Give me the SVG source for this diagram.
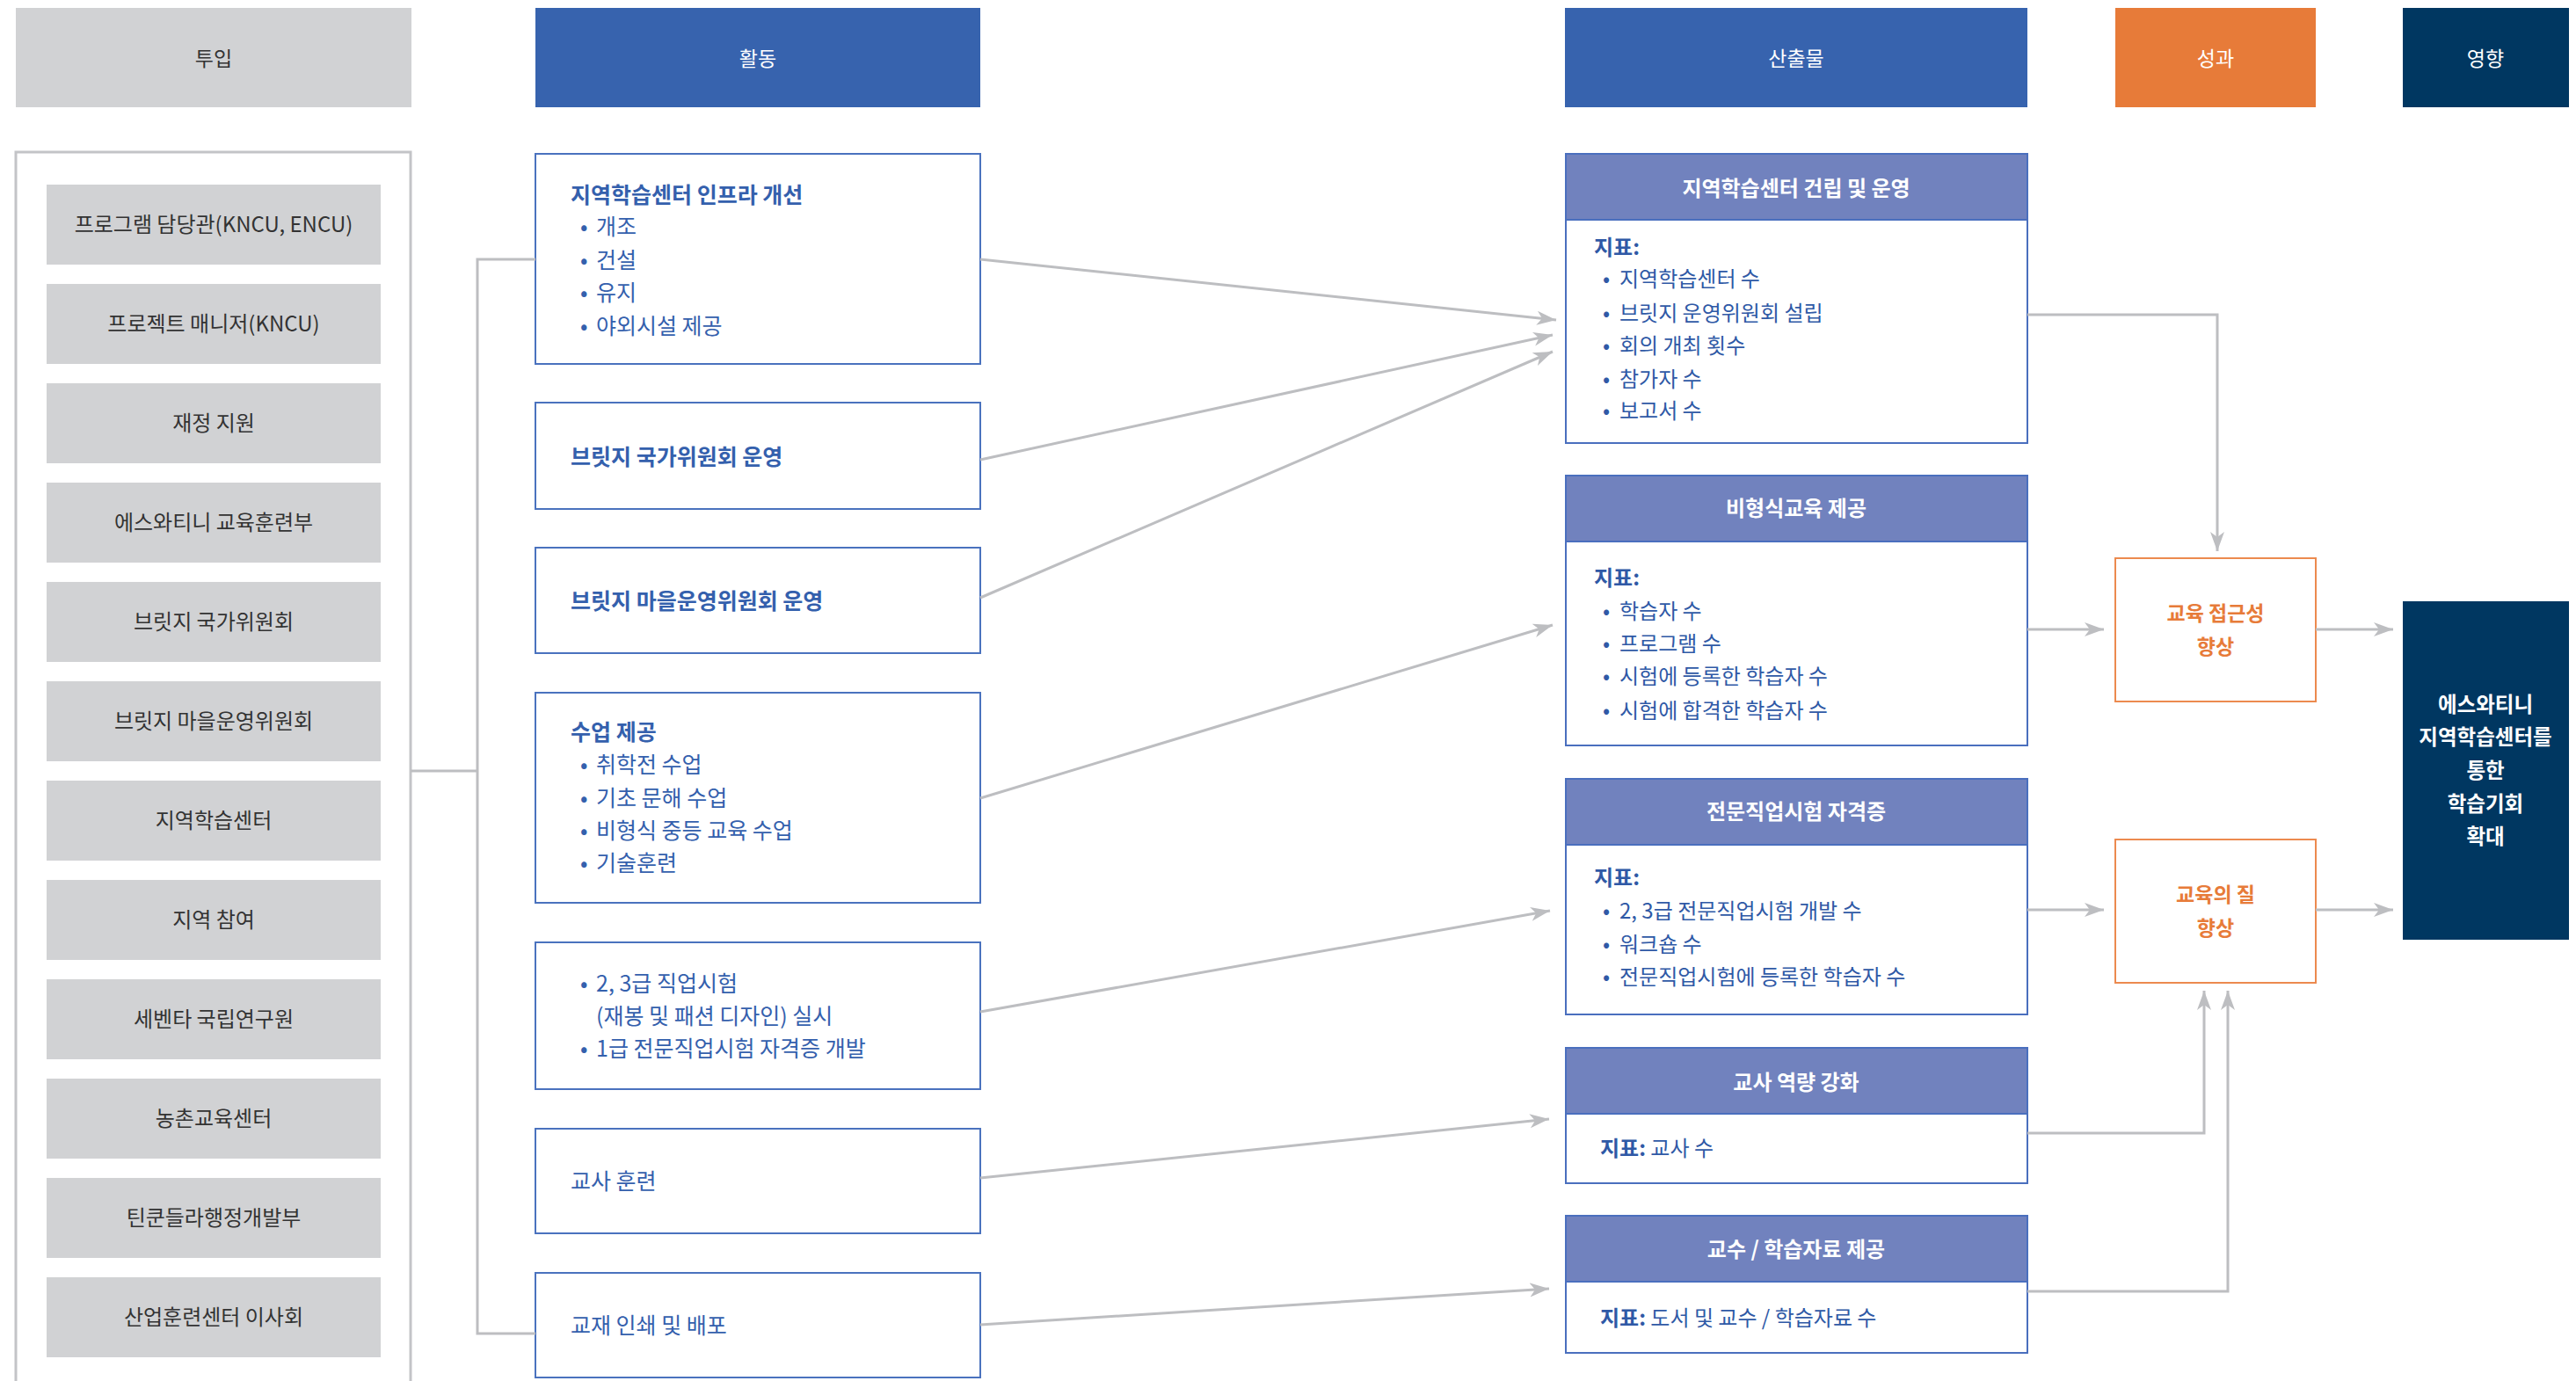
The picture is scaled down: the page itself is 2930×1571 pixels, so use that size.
<svg xmlns="http://www.w3.org/2000/svg" width="2930" height="1571" viewBox="0 0 2930 1571">
<defs>
<style>
text{font-family:"Noto Sans CJK KR","Noto Sans",sans-serif;}
.hdr{font-size:23px;fill:#ffffff;text-anchor:middle;}
.hdrg{font-size:23px;fill:#333333;text-anchor:middle;}
.inbox{fill:#d1d2d4;}
.intext{font-size:24px;fill:#333333;text-anchor:middle;}
.act{fill:#ffffff;stroke:#4a72be;stroke-width:2;}
.at{font-size:25px;fill:#3460ad;font-weight:700;}
.ai{font-size:25px;fill:#3460ad;}
.out{fill:#ffffff;stroke:#4a6fbe;stroke-width:2;}
.outh{fill:#7182be;stroke:#4a6fbe;stroke-width:2;}
.oh{font-size:24px;fill:#ffffff;font-weight:700;text-anchor:middle;}
.ok{font-size:24px;fill:#2f59a6;font-weight:700;}
.oi{font-size:24px;fill:#2f59a6;}
.res{fill:#ffffff;stroke:#ec8a4f;stroke-width:2;}
.rt{font-size:23px;fill:#e77b39;font-weight:700;text-anchor:middle;}
.imp{font-size:23.5px;fill:#ffffff;font-weight:700;text-anchor:middle;}
.ln{fill:none;stroke:#bdbec1;stroke-width:3;}
.lna{fill:none;stroke:#bdbec1;stroke-width:3;marker-end:url(#ah);}
</style>
<marker id="ah" markerUnits="userSpaceOnUse" markerWidth="24" markerHeight="18" refX="22" refY="8" orient="auto">
<path d="M0,0 L22,8 L0,16 L6,8 z" fill="#bdbec1"/>
</marker>
</defs>

<g id="headers">
<g id="h-input"><rect x="18" y="9" width="450" height="113" fill="#d1d2d4"/><text class="hdrg" x="243" y="75">투입</text></g>
<g id="h-activity"><rect x="609" y="9" width="506" height="113" fill="#3763ae"/><text class="hdr" x="862" y="75">활동</text></g>
<g id="h-output"><rect x="1780" y="9" width="526" height="113" fill="#3763ae"/><text class="hdr" x="2043" y="75">산출물</text></g>
<g id="h-outcome"><rect x="2406" y="9" width="228" height="113" fill="#e77b39"/><text class="hdr" x="2520" y="75">성과</text></g>
<g id="h-impact"><rect x="2733" y="9" width="189" height="113" fill="#003761"/><text class="hdr" x="2827" y="75">영향</text></g>
</g>

<g id="inputs">
<rect x="18" y="173" width="449" height="1420" fill="#ffffff" stroke="#c3c4c7" stroke-width="3"/>
<g id="in1"><rect class="inbox" x="53" y="210" width="380" height="91"/><text class="intext" x="243" y="264">프로그램 담당관(KNCU, ENCU)</text></g>
<g id="in2"><rect class="inbox" x="53" y="323" width="380" height="91"/><text class="intext" x="243" y="377">프로젝트 매니저(KNCU)</text></g>
<g id="in3"><rect class="inbox" x="53" y="436" width="380" height="91"/><text class="intext" x="243" y="490">재정 지원</text></g>
<g id="in4"><rect class="inbox" x="53" y="549" width="380" height="91"/><text class="intext" x="243" y="603">에스와티니 교육훈련부</text></g>
<g id="in5"><rect class="inbox" x="53" y="662" width="380" height="91"/><text class="intext" x="243" y="716">브릿지 국가위원회</text></g>
<g id="in6"><rect class="inbox" x="53" y="775" width="380" height="91"/><text class="intext" x="243" y="829">브릿지 마을운영위원회</text></g>
<g id="in7"><rect class="inbox" x="53" y="888" width="380" height="91"/><text class="intext" x="243" y="942">지역학습센터</text></g>
<g id="in8"><rect class="inbox" x="53" y="1001" width="380" height="91"/><text class="intext" x="243" y="1055">지역 참여</text></g>
<g id="in9"><rect class="inbox" x="53" y="1114" width="380" height="91"/><text class="intext" x="243" y="1168">세벤타 국립연구원</text></g>
<g id="in10"><rect class="inbox" x="53" y="1227" width="380" height="91"/><text class="intext" x="243" y="1281">농촌교육센터</text></g>
<g id="in11"><rect class="inbox" x="53" y="1340" width="380" height="91"/><text class="intext" x="243" y="1394">틴쿤들라행정개발부</text></g>
<g id="in12"><rect class="inbox" x="53" y="1453" width="380" height="91"/><text class="intext" x="243" y="1507">산업훈련센터 이사회</text></g>
</g>

<g id="activities">
<g id="act1"><rect class="act" x="609" y="175" width="506" height="239"/>
<text class="at" x="649" y="231">지역학습센터 인프라 개선</text>
<text class="ai" x="660" y="267">•</text><text class="ai" x="678" y="267">개조</text>
<text class="ai" x="660" y="305">•</text><text class="ai" x="678" y="305">건설</text>
<text class="ai" x="660" y="342">•</text><text class="ai" x="678" y="342">유지</text>
<text class="ai" x="660" y="380">•</text><text class="ai" x="678" y="380">야외시설 제공</text>
</g>
<g id="act2"><rect class="act" x="609" y="458" width="506" height="121"/><text class="at" x="649" y="529">브릿지 국가위원회 운영</text></g>
<g id="act3"><rect class="act" x="609" y="623" width="506" height="120"/><text class="at" x="649" y="693">브릿지 마을운영위원회 운영</text></g>
<g id="act4"><rect class="act" x="609" y="788" width="506" height="239"/>
<text class="at" x="649" y="842">수업 제공</text>
<text class="ai" x="660" y="879">•</text><text class="ai" x="678" y="879">취학전 수업</text>
<text class="ai" x="660" y="917">•</text><text class="ai" x="678" y="917">기초 문해 수업</text>
<text class="ai" x="660" y="954">•</text><text class="ai" x="678" y="954">비형식 중등 교육 수업</text>
<text class="ai" x="660" y="991">•</text><text class="ai" x="678" y="991">기술훈련</text>
</g>
<g id="act5"><rect class="act" x="609" y="1072" width="506" height="167"/>
<text class="ai" x="660" y="1128">•</text><text class="ai" x="678" y="1128">2, 3급 직업시험</text>
<text class="ai" x="678" y="1165">(재봉 및 패션 디자인) 실시</text>
<text class="ai" x="660" y="1202">•</text><text class="ai" x="678" y="1202">1급 전문직업시험 자격증 개발</text>
</g>
<g id="act6"><rect class="act" x="609" y="1284" width="506" height="119"/><text class="ai" x="649" y="1353">교사 훈련</text></g>
<g id="act7"><rect class="act" x="609" y="1448" width="506" height="119"/><text class="ai" x="649" y="1517">교재 인쇄 및 배포</text></g>
</g>

<g id="outputs">
<g id="out1"><rect class="out" x="1781" y="175" width="525" height="329"/><rect class="outh" x="1781" y="175" width="525" height="75"/>
<text class="oh" x="2043" y="223">지역학습센터 건립 및 운영</text>
<text class="ok" x="1813" y="290">지표:</text>
<text class="oi" x="1823" y="326">•</text><text class="oi" x="1842" y="326">지역학습센터 수</text>
<text class="oi" x="1823" y="365">•</text><text class="oi" x="1842" y="365">브릿지 운영위원회 설립</text>
<text class="oi" x="1823" y="402">•</text><text class="oi" x="1842" y="402">회의 개최 횟수</text>
<text class="oi" x="1823" y="440">•</text><text class="oi" x="1842" y="440">참가자 수</text>
<text class="oi" x="1823" y="476">•</text><text class="oi" x="1842" y="476">보고서 수</text>
</g>
<g id="out2"><rect class="out" x="1781" y="541" width="525" height="307"/><rect class="outh" x="1781" y="541" width="525" height="75"/>
<text class="oh" x="2043" y="587">비형식교육 제공</text>
<text class="ok" x="1813" y="666">지표:</text>
<text class="oi" x="1823" y="704">•</text><text class="oi" x="1842" y="704">학습자 수</text>
<text class="oi" x="1823" y="741">•</text><text class="oi" x="1842" y="741">프로그램 수</text>
<text class="oi" x="1823" y="778">•</text><text class="oi" x="1842" y="778">시험에 등록한 학습자 수</text>
<text class="oi" x="1823" y="817">•</text><text class="oi" x="1842" y="817">시험에 합격한 학습자 수</text>
</g>
<g id="out3"><rect class="out" x="1781" y="886" width="525" height="268"/><rect class="outh" x="1781" y="886" width="525" height="75"/>
<text class="oh" x="2043" y="932">전문직업시험 자격증</text>
<text class="ok" x="1813" y="1007">지표:</text>
<text class="oi" x="1823" y="1045">•</text><text class="oi" x="1842" y="1045">2, 3급 전문직업시험 개발 수</text>
<text class="oi" x="1823" y="1083">•</text><text class="oi" x="1842" y="1083">워크숍 수</text>
<text class="oi" x="1823" y="1120">•</text><text class="oi" x="1842" y="1120">전문직업시험에 등록한 학습자 수</text>
</g>
<g id="out4"><rect class="out" x="1781" y="1192" width="525" height="154"/><rect class="outh" x="1781" y="1192" width="525" height="75"/>
<text class="oh" x="2043" y="1240">교사 역량 강화</text>
<text class="oi" x="1820" y="1315"><tspan font-weight="700">지표:</tspan> 교사 수</text>
</g>
<g id="out5"><rect class="out" x="1781" y="1383" width="525" height="156"/><rect class="outh" x="1781" y="1383" width="525" height="75"/>
<text class="oh" x="2043" y="1430">교수 / 학습자료 제공</text>
<text class="oi" x="1820" y="1508"><tspan font-weight="700">지표:</tspan> 도서 및 교수 / 학습자료 수</text>
</g>
</g>

<g id="outcomes">
<g id="res1"><rect class="res" x="2406" y="635" width="228" height="163"/>
<text class="rt" x="2520" y="706">교육 접근성</text><text class="rt" x="2520" y="744">향상</text></g>
<g id="res2"><rect class="res" x="2406" y="955" width="228" height="163"/>
<text class="rt" x="2520" y="1026">교육의 질</text><text class="rt" x="2520" y="1064">향상</text></g>
</g>

<g id="impact">
<rect x="2733" y="684" width="189" height="385" fill="#003761"/>
<text class="imp" x="2827" y="810">에스와티니</text>
<text class="imp" x="2827" y="847">지역학습센터를</text>
<text class="imp" x="2827" y="885">통한</text>
<text class="imp" x="2827" y="923">학습기회</text>
<text class="imp" x="2827" y="960">확대</text>
</g>

<g id="connectors">
<path class="ln" d="M467,877 H543"/>
<path class="ln" d="M609,295 H543 V1517 H609"/>
<path class="lna" d="M1115,295 L1770,364"/>
<path class="lna" d="M1115,523 L1766,381"/>
<path class="lna" d="M1115,680 L1766,400"/>
<path class="lna" d="M1115,908 L1766,711"/>
<path class="lna" d="M1115,1151 L1763,1036"/>
<path class="lna" d="M1115,1340 L1762,1273"/>
<path class="lna" d="M1115,1507 L1762,1466"/>
<path class="lna" d="M2306,358 H2522 V627"/>
<path class="lna" d="M2306,716 H2393"/>
<path class="lna" d="M2306,1035 H2393"/>
<path class="lna" d="M2306,1289 H2507 V1127"/>
<path class="lna" d="M2306,1469 H2534 V1127"/>
<path class="lna" d="M2634,716 H2722"/>
<path class="lna" d="M2634,1035 H2722"/>
</g>
</svg>
